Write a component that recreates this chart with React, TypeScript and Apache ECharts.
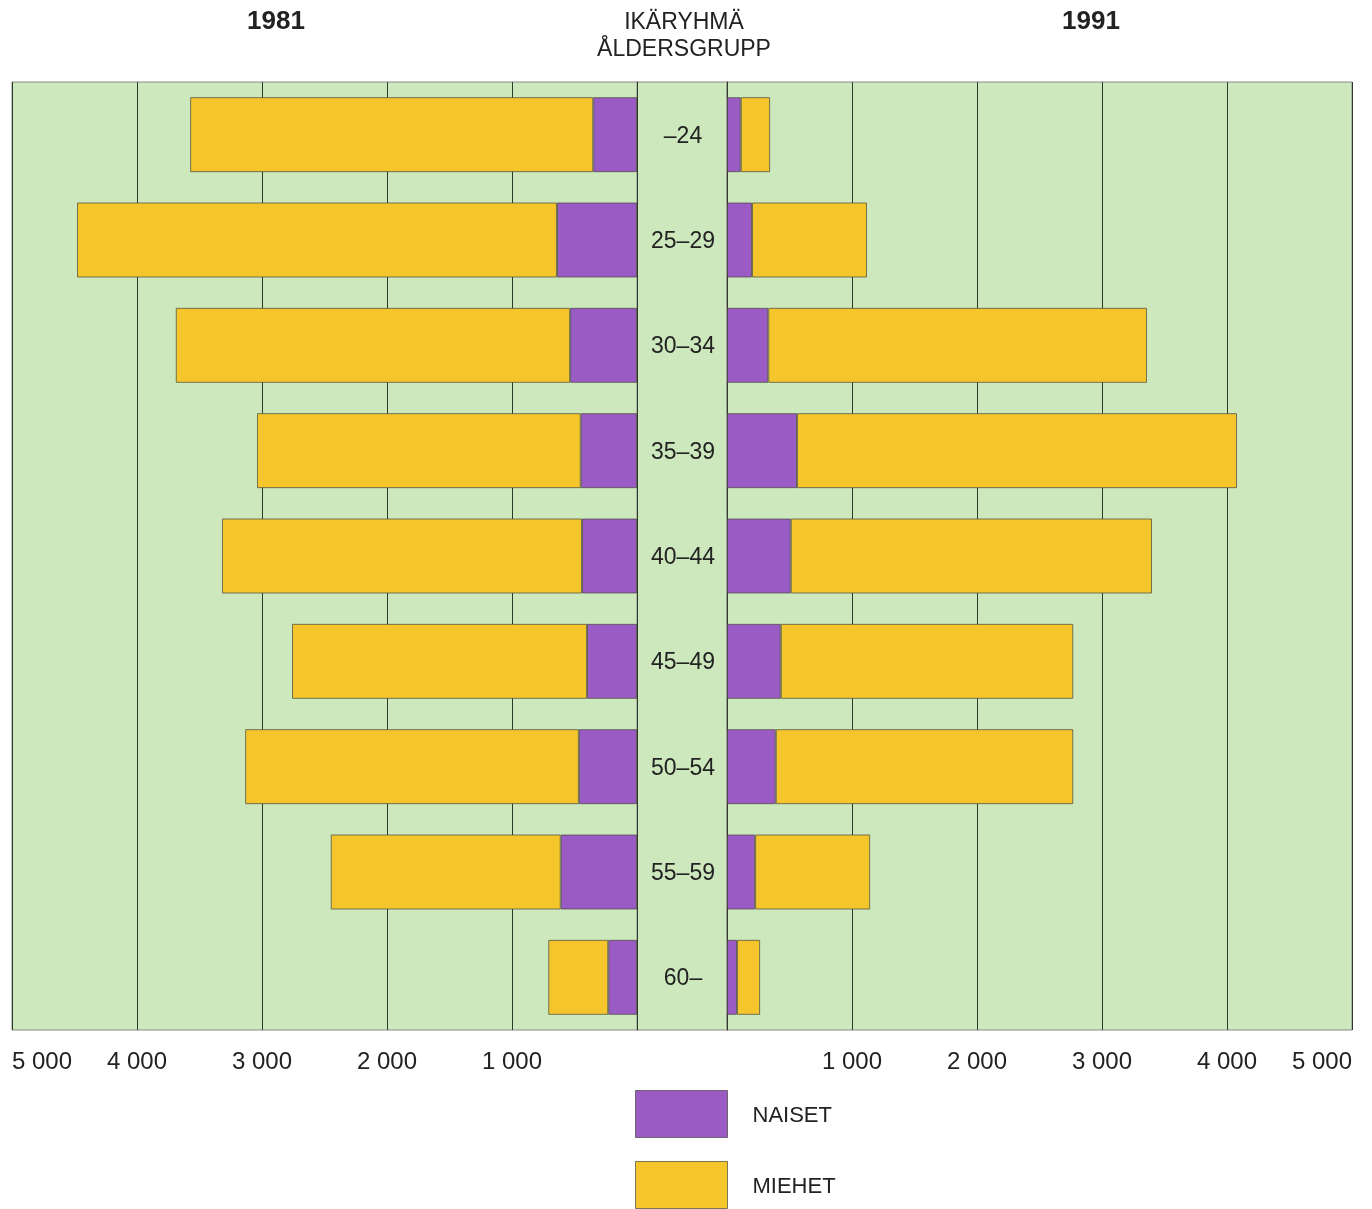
import React, { useEffect, useRef } from "react";
import * as echarts from "echarts";

const categories = ["–24", "25–29", "30–34", "35–39", "40–44", "45–49", "50–54", "55–59", "60–"];
const naiset1981 = [350, 640, 535, 450, 440, 400, 465, 610, 230];
const miehet1981 = [3225, 3840, 3155, 2590, 2880, 2360, 2670, 1840, 480];
const naiset1991 = [110, 200, 330, 560, 510, 430, 390, 225, 80];
const miehet1991 = [235, 920, 3030, 3520, 2890, 2340, 2380, 920, 185];
const legendNames = ["NAISET", "MIEHET"];
const yearLabels = ["1981", "1991"];
const centerTitle = ["IKÄRYHMÄ", "ÅLDERSGRUPP"];

const GREEN = "#cde8bd";
const PURPLE = "#9a5bc4";
const YELLOW = "#f4c62c";
const FONT = "'Liberation Sans', Arial, sans-serif";

const fmt = (v: number) => (v === 0 ? "" : String(v).replace(/\B(?=(\d{3})+(?!\d))/g, " "));

export default function App() {
  const ref = useRef<HTMLDivElement>(null);
  useEffect(() => {
    if (!ref.current) return;
    const chart = echarts.init(ref.current, undefined, { renderer: "svg" });
    const top = 82;
    const height = 948;
    const xAxisCommon = {
      type: "value" as const,
      min: 0,
      max: 5000,
      interval: 1000,
      position: "bottom" as const,
      axisLine: { show: false },
      axisTick: { show: false },
      splitLine: { show: true, lineStyle: { color: "#2e3a2a", width: 1 } },
      axisLabel: {
        formatter: fmt,
        fontSize: 24,
        color: "#222",
        fontFamily: FONT,
        margin: 18,
        showMinLabel: true,
        showMaxLabel: true,
      },
    };
    const barStyle = (color: string) => ({
      color,
      borderColor: "rgba(70,70,60,0.7)",
      borderWidth: 1,
    });
    const legendCommon = {
      orient: "vertical" as const,
      left: 635,
      padding: 0,
      itemWidth: 92,
      itemHeight: 47,
      icon: "rect",
      selectedMode: false,
      textStyle: { fontSize: 22, color: "#222", fontFamily: FONT, padding: [9, 0, 0, 20] },
      itemStyle: { borderColor: "rgba(70,70,60,0.7)", borderWidth: 1 },
    };
    chart.setOption({
      animation: false,
      textStyle: { fontFamily: FONT },
      grid: [
        { left: 12, width: 625, top, height, show: true, backgroundColor: GREEN, borderColor: "#888", borderWidth: 1 },
        { left: 727, width: 625, top, height, show: true, backgroundColor: GREEN, borderColor: "#888", borderWidth: 1 },
      ],
      xAxis: [
        { ...xAxisCommon, gridIndex: 0, inverse: true, axisLabel: { ...xAxisCommon.axisLabel, alignMaxLabel: "left" } },
        { ...xAxisCommon, gridIndex: 1, axisLabel: { ...xAxisCommon.axisLabel, alignMaxLabel: "right" } },
      ],
      yAxis: [
        {
          type: "category",
          gridIndex: 0,
          data: categories,
          inverse: true,
          position: "right",
          axisLine: { show: true, lineStyle: { color: "#2e3a2a" } },
          axisTick: { show: false },
          axisLabel: { show: false },
        },
        {
          type: "category",
          gridIndex: 1,
          data: categories,
          inverse: true,
          position: "left",
          axisLine: { show: true, lineStyle: { color: "#2e3a2a" } },
          axisTick: { show: false },
          axisLabel: { show: true, align: "center", margin: 44, fontSize: 23, color: "#222", fontFamily: FONT },
        },
      ],
      legend: [
        { ...legendCommon, top: 1090, data: [legendNames[0]] },
        { ...legendCommon, top: 1161, data: [legendNames[1]] },
      ],
      series: [
        { name: legendNames[0], type: "bar", xAxisIndex: 0, yAxisIndex: 0, stack: "y1981", barWidth: 75, data: naiset1981, itemStyle: barStyle(PURPLE) },
        { name: legendNames[1], type: "bar", xAxisIndex: 0, yAxisIndex: 0, stack: "y1981", barWidth: 75, data: miehet1981, itemStyle: barStyle(YELLOW) },
        { name: legendNames[0], type: "bar", xAxisIndex: 1, yAxisIndex: 1, stack: "y1991", barWidth: 75, data: naiset1991, itemStyle: barStyle(PURPLE) },
        { name: legendNames[1], type: "bar", xAxisIndex: 1, yAxisIndex: 1, stack: "y1991", barWidth: 75, data: miehet1991, itemStyle: barStyle(YELLOW) },
      ],
      graphic: [
        {
          type: "rect",
          z: -1,
          shape: { x: 637, y: top, width: 90, height },
          style: { fill: GREEN, stroke: "#888", lineWidth: 1 },
        },
        {
          type: "text",
          x: 276,
          y: 20,
          style: { text: yearLabels[0], fontSize: 26, fontWeight: "bold", fill: "#222", align: "center", verticalAlign: "middle", fontFamily: FONT },
        },
        {
          type: "text",
          x: 1091,
          y: 20,
          style: { text: yearLabels[1], fontSize: 26, fontWeight: "bold", fill: "#222", align: "center", verticalAlign: "middle", fontFamily: FONT },
        },
        {
          type: "text",
          x: 684,
          y: 21,
          style: { text: centerTitle[0], fontSize: 23, fill: "#222", align: "center", verticalAlign: "middle", fontFamily: FONT },
        },
        {
          type: "text",
          x: 684,
          y: 48,
          style: { text: centerTitle[1], fontSize: 23, fill: "#222", align: "center", verticalAlign: "middle", fontFamily: FONT },
        },
      ],
    });
    return () => chart.dispose();
  }, []);
  return <div ref={ref} style={{ position: "fixed", left: 0, top: 0, width: 1372, height: 1209 }} />;
}
